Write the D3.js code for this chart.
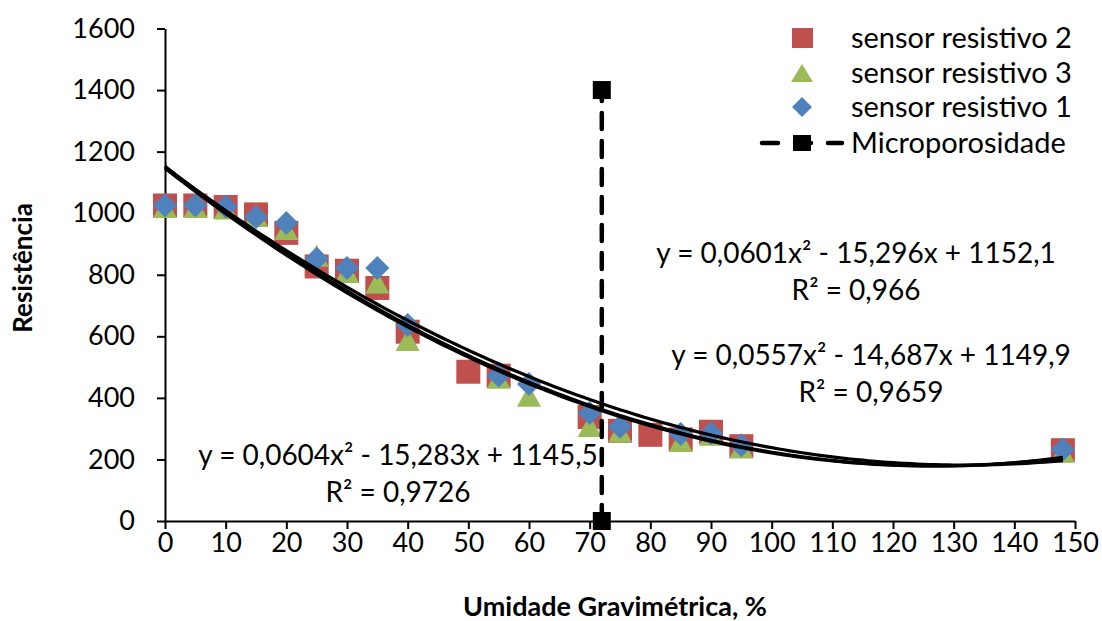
<!DOCTYPE html>
<html>
<head>
<meta charset="utf-8">
<script src="https://cdn.jsdelivr.net/npm/d3@7"></script>
<style>
  body { margin: 0; background: #fff; }
  text { font-family: Lato, "Open Sans", sans-serif; fill: #000; }
</style>
</head>
<body>
<div id="chart"></div>
<script>
var width = 1102,
    height = 621;

// sensor resistivo 2 (quadrados vermelhos)
var xSensor2 = [0, 5, 10, 15, 20, 25, 30, 35, 40, 50, 55, 70, 75, 80, 85, 90, 95, 148];
var ySensor2 = [1025, 1025, 1020, 996, 936, 827, 813, 757, 615, 485, 472, 338, 293, 280, 265, 290, 243, 230];

// sensor resistivo 3 (triangulos verdes)
var xSensor3 = [0, 5, 10, 15, 20, 25, 30, 35, 40, 55, 60, 70, 75, 85, 90, 95, 148];
var ySensor3 = [1020, 1020, 1015, 991, 949, 862, 810, 775, 588, 465, 407, 309, 291, 260, 280, 240, 225];

// sensor resistivo 1 (losangos azuis)
var xSensor1 = [0, 5, 10, 15, 20, 25, 30, 35, 40, 55, 60, 70, 75, 85, 90, 95, 148];
var ySensor1 = [1026, 1026, 1022, 988, 968, 852, 822, 822, 637, 473, 445, 351, 306, 283, 285, 246, 232];

// Microporosidade
var xMicro = [72, 72];
var yMicro = [0, 1400];

// linhas de tendencia (polinomial ordem 2): a, b, c
var trendCoefs = [
  [0.0601, -15.296, 1152.1],
  [0.0557, -14.687, 1149.9],
  [0.0604, -15.283, 1145.5]
];
var trendEq = [
  "y = 0,0601x² - 15,296x + 1152,1",
  "y = 0,0557x² - 14,687x + 1149,9",
  "y = 0,0604x² - 15,283x + 1145,5"
];
var trendR2 = ["R² = 0,966", "R² = 0,9659", "R² = 0,9726"];

var xTicks = d3.range(0, 151, 10);
var yTicks = d3.range(0, 1601, 200);

var legendLabels = ["sensor resistivo 2", "sensor resistivo 3", "sensor resistivo 1", "Microporosidade"];

var colors = { red: "#C0504D", green: "#9BBB59", blue: "#4F81BD" };

var svg = d3.select("#chart").append("svg")
    .attr("width", width)
    .attr("height", height);

svg.append("rect")
    .attr("width", width)
    .attr("height", height)
    .attr("fill", "#fff");

var x = d3.scaleLinear().domain([0, 150]).range([165, 1075]);
var y = d3.scaleLinear().domain([0, 1600]).range([521, 28.5]);

// eixos
var xAxis = svg.append("g")
    .attr("transform", "translate(0," + y(0) + ")")
    .call(d3.axisBottom(x).tickValues(xTicks).tickFormat(d3.format("d"))
      .tickSize(8).tickSizeOuter(0).tickPadding(4));

var yAxis = svg.append("g")
    .attr("transform", "translate(" + x(0) + ",0)")
    .call(d3.axisLeft(y).tickValues(yTicks).tickFormat(d3.format("d"))
      .tickSize(8).tickSizeOuter(0).tickPadding(22));

[xAxis, yAxis].forEach(function(g) {
  g.select(".domain").attr("stroke", "#000").attr("stroke-width", 2);
  g.selectAll(".tick line").attr("stroke", "#000").attr("stroke-width", 2);
  g.selectAll(".tick text")
    .style("font-family", "Lato, sans-serif")
    .style("font-size", "27px")
    .attr("fill", "#000");
});

svg.append("text")
    .attr("x", 615)
    .attr("y", 607)
    .attr("dy", "0.35em")
    .attr("text-anchor", "middle")
    .style("font-weight", "bold")
    .style("font-size", "27px")
    .text("Umidade Gravimétrica, %");

svg.append("text")
    .attr("transform", "translate(23,268) rotate(-90)")
    .attr("dy", "0.35em")
    .attr("text-anchor", "middle")
    .style("font-weight", "bold")
    .style("font-size", "26px")
    .text("Resistência");

var plot = svg.append("g");

function zip(xs, ys) {
  return xs.map(function(v, i) { return [v, ys[i]]; });
}

// quadrados
plot.selectAll("rect.s2")
    .data(zip(xSensor2, ySensor2))
  .enter().append("rect")
    .attr("class", "s2")
    .attr("x", function(d) { return x(d[0]) - 12; })
    .attr("y", function(d) { return y(d[1]) - 12; })
    .attr("width", 24)
    .attr("height", 24)
    .attr("fill", colors.red);

// triangulos
plot.selectAll("path.s3")
    .data(zip(xSensor3, ySensor3))
  .enter().append("path")
    .attr("class", "s3")
    .attr("d", "M0,-11L12,11L-12,11Z")
    .attr("transform", function(d) { return "translate(" + x(d[0]) + "," + y(d[1]) + ")"; })
    .attr("fill", colors.green);

// losangos
plot.selectAll("path.s1")
    .data(zip(xSensor1, ySensor1))
  .enter().append("path")
    .attr("class", "s1")
    .attr("d", "M0,-12L12,0L0,12L-12,0Z")
    .attr("transform", function(d) { return "translate(" + x(d[0]) + "," + y(d[1]) + ")"; })
    .attr("fill", colors.blue);

// tendencias
var trendLine = d3.line()
    .x(function(d) { return x(d[0]); })
    .y(function(d) { return y(d[1]); });

trendCoefs.forEach(function(c) {
  var pts = d3.range(0, 148.5, 1).map(function(v) {
    return [v, c[0] * v * v + c[1] * v + c[2]];
  });
  plot.append("path")
      .attr("d", trendLine(pts))
      .attr("fill", "none")
      .attr("stroke", "#000")
      .attr("stroke-width", 3.2);
});

// Microporosidade
plot.append("path")
    .attr("d", trendLine(zip(xMicro, yMicro)))
    .attr("fill", "none")
    .attr("stroke", "#000")
    .attr("stroke-width", 4.5)
    .attr("stroke-linecap", "round")
    .attr("stroke-dasharray", "16,12");

plot.selectAll("rect.micro")
    .data(zip(xMicro, yMicro))
  .enter().append("rect")
    .attr("x", function(d) { return x(d[0]) - 9; })
    .attr("y", function(d) { return y(d[1]) - 9; })
    .attr("width", 18)
    .attr("height", 18)
    .attr("fill", "#000");

// rotulos das equacoes
var eqPos = [[856, 253], [871, 355], [398, 455]];
trendEq.forEach(function(t, i) {
  svg.append("text")
      .attr("x", eqPos[i][0])
      .attr("y", eqPos[i][1])
      .attr("dy", "0.35em")
      .attr("text-anchor", "middle")
      .style("font-size", "28px")
      .text(t);
  svg.append("text")
      .attr("x", eqPos[i][0])
      .attr("y", eqPos[i][1] + 37)
      .attr("dy", "0.35em")
      .attr("text-anchor", "middle")
      .style("font-size", "28px")
      .text(trendR2[i]);
});

// legenda
var legend = svg.append("g");
var legY = [38, 73, 107, 143];
legendLabels.forEach(function(t, i) {
  legend.append("text")
      .attr("x", 851)
      .attr("y", legY[i])
      .attr("dy", "0.35em")
      .style("font-size", "29px")
      .text(t);
});
legend.append("rect")
    .attr("x", 792).attr("y", legY[0] - 10)
    .attr("width", 21).attr("height", 20)
    .attr("fill", colors.red);
legend.append("path")
    .attr("d", "M0,-9L11,9L-11,9Z")
    .attr("transform", "translate(802," + legY[1] + ")")
    .attr("fill", colors.green);
legend.append("path")
    .attr("d", "M0,-10L10,0L0,10L-10,0Z")
    .attr("transform", "translate(802," + legY[2] + ")")
    .attr("fill", colors.blue);
legend.append("path")
    .attr("d", "M762," + legY[3] + "L842," + legY[3])
    .attr("stroke", "#000")
    .attr("stroke-width", 4.5)
    .attr("stroke-linecap", "round")
    .attr("stroke-dasharray", "16,17");
legend.append("rect")
    .attr("x", 793).attr("y", legY[3] - 8)
    .attr("width", 18).attr("height", 16)
    .attr("fill", "#000");
</script>
</body>
</html>
